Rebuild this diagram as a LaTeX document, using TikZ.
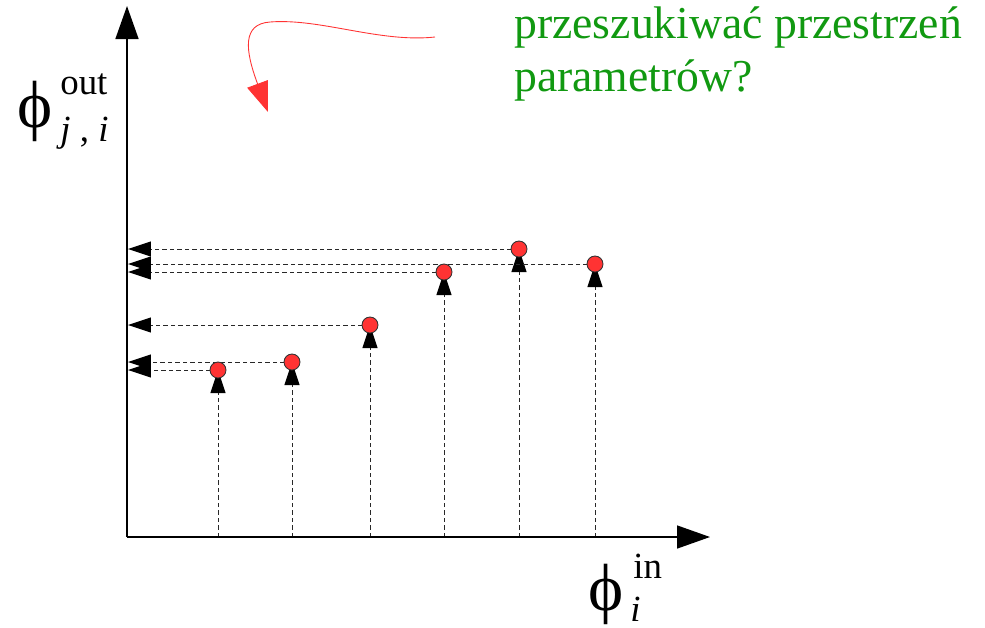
\documentclass[tikz,border=0pt]{standalone}
\usepackage{fontspec}
\setmainfont{Liberation Serif}
\usetikzlibrary{arrows.meta, positioning, backgrounds}
\definecolor{ptred}{RGB}{255,51,51}
\definecolor{txtgreen}{RGB}{17,153,17}
\definecolor{dashgray}{RGB}{40,40,40}

\begin{document}
\begin{tikzpicture}[
    x=0.02cm, y=-0.02cm,
    axisline/.style={line width=0.85pt, -{Triangle[length=0.66cm, width=0.46cm]}},
    proj/.style={dashgray, line width=0.55pt, dash pattern=on 0.09cm off 0.06cm, -{Triangle[length=0.46cm, width=0.3cm, color=black]}},
    sample/.style={circle, draw=black!80, line width=0.5pt, fill=ptred, minimum size=0.32cm, inner sep=0pt},
    hint/.style={ptred, line width=0.5pt, -{Triangle[length=0.6cm, width=0.44cm]}},
    bigsym/.style={font=\fontsize{38}{44}\selectfont, inner sep=0pt},
    script/.style={font=\fontsize{21}{25}\selectfont, inner sep=0pt, anchor=base west}
]
\useasboundingbox (0,0) rectangle (985,627);

% ============ AXES ============
\coordinate (o) at (127,537);
\coordinate (ytop) at (127,6);
\coordinate (xend) at (710,537);
\draw[axisline] (o) -- (ytop);
\draw[axisline] (o) -- (xend);

% axis labels
\node[bigsym] (phiout) at (35,111) {ϕ};
\node[script] (outsup) at (60,94) {out};
\node[script] (outsub) at (60,141) {\textit{j} , \textit{i}};

\node[bigsym] (phiin) at (606,594) {ϕ};
\node[script] (insup) at (633,578) {in};
\node[script] (insub) at (630,621) {\textit{i}};

% ============ SAMPLE POINTS ============
\node[sample] (p1) at (218,370) {};
\node[sample] (p2) at (292,362) {};
\node[sample] (p3) at (370,325) {};
\node[sample] (p4) at (444,272) {};
\node[sample] (p5) at (519,249) {};
\node[sample] (p6) at (595,264) {};

% feet on the x axis
\coordinate (f1) at (218,537);
\coordinate (f2) at (292,537);
\coordinate (f3) at (370,537);
\coordinate (f4) at (444,537);
\coordinate (f5) at (519,537);
\coordinate (f6) at (595,537);

% hits on the y axis
\coordinate (h1) at (128,370);
\coordinate (h2) at (128,362);
\coordinate (h3) at (128,325);
\coordinate (h4) at (128,272);
\coordinate (h5) at (128,249);
\coordinate (h6) at (128,264);

% ============ PROJECTIONS ============
\begin{scope}[on background layer]
    \draw[proj] (f1) -- (p1.center);
    \draw[proj] (f2) -- (p2.center);
    \draw[proj] (f3) -- (p3.center);
    \draw[proj] (f4) -- (p4.center);
    \draw[proj] (f5) -- (p5.center);
    \draw[proj] (f6) -- (p6.center);

    \draw[proj] (p1.center) -- (h1);
    \draw[proj] (p2.center) -- (h2);
    \draw[proj] (p3.center) -- (h3);
    \draw[proj] (p4.center) -- (h4);
    \draw[proj] (p5.center) -- (h5);
    \draw[proj] (p6.center) -- (h6);
\end{scope}

% ============ QUESTION ============
\node[txtgreen, font=\fontsize{26}{30}\selectfont, align=left, anchor=base west, inner sep=0pt] (question) at (514,91) {przeszukiwać przestrzeń\\parametrów?};

\coordinate (hintstart) at (435,37);
\coordinate (hintend) at (268,112);
\draw[hint] (hintstart) .. controls (380,43) and (320,18) .. (270,22)
    .. controls (242,24) and (245,50) .. (hintend);

\end{tikzpicture}
\end{document}
